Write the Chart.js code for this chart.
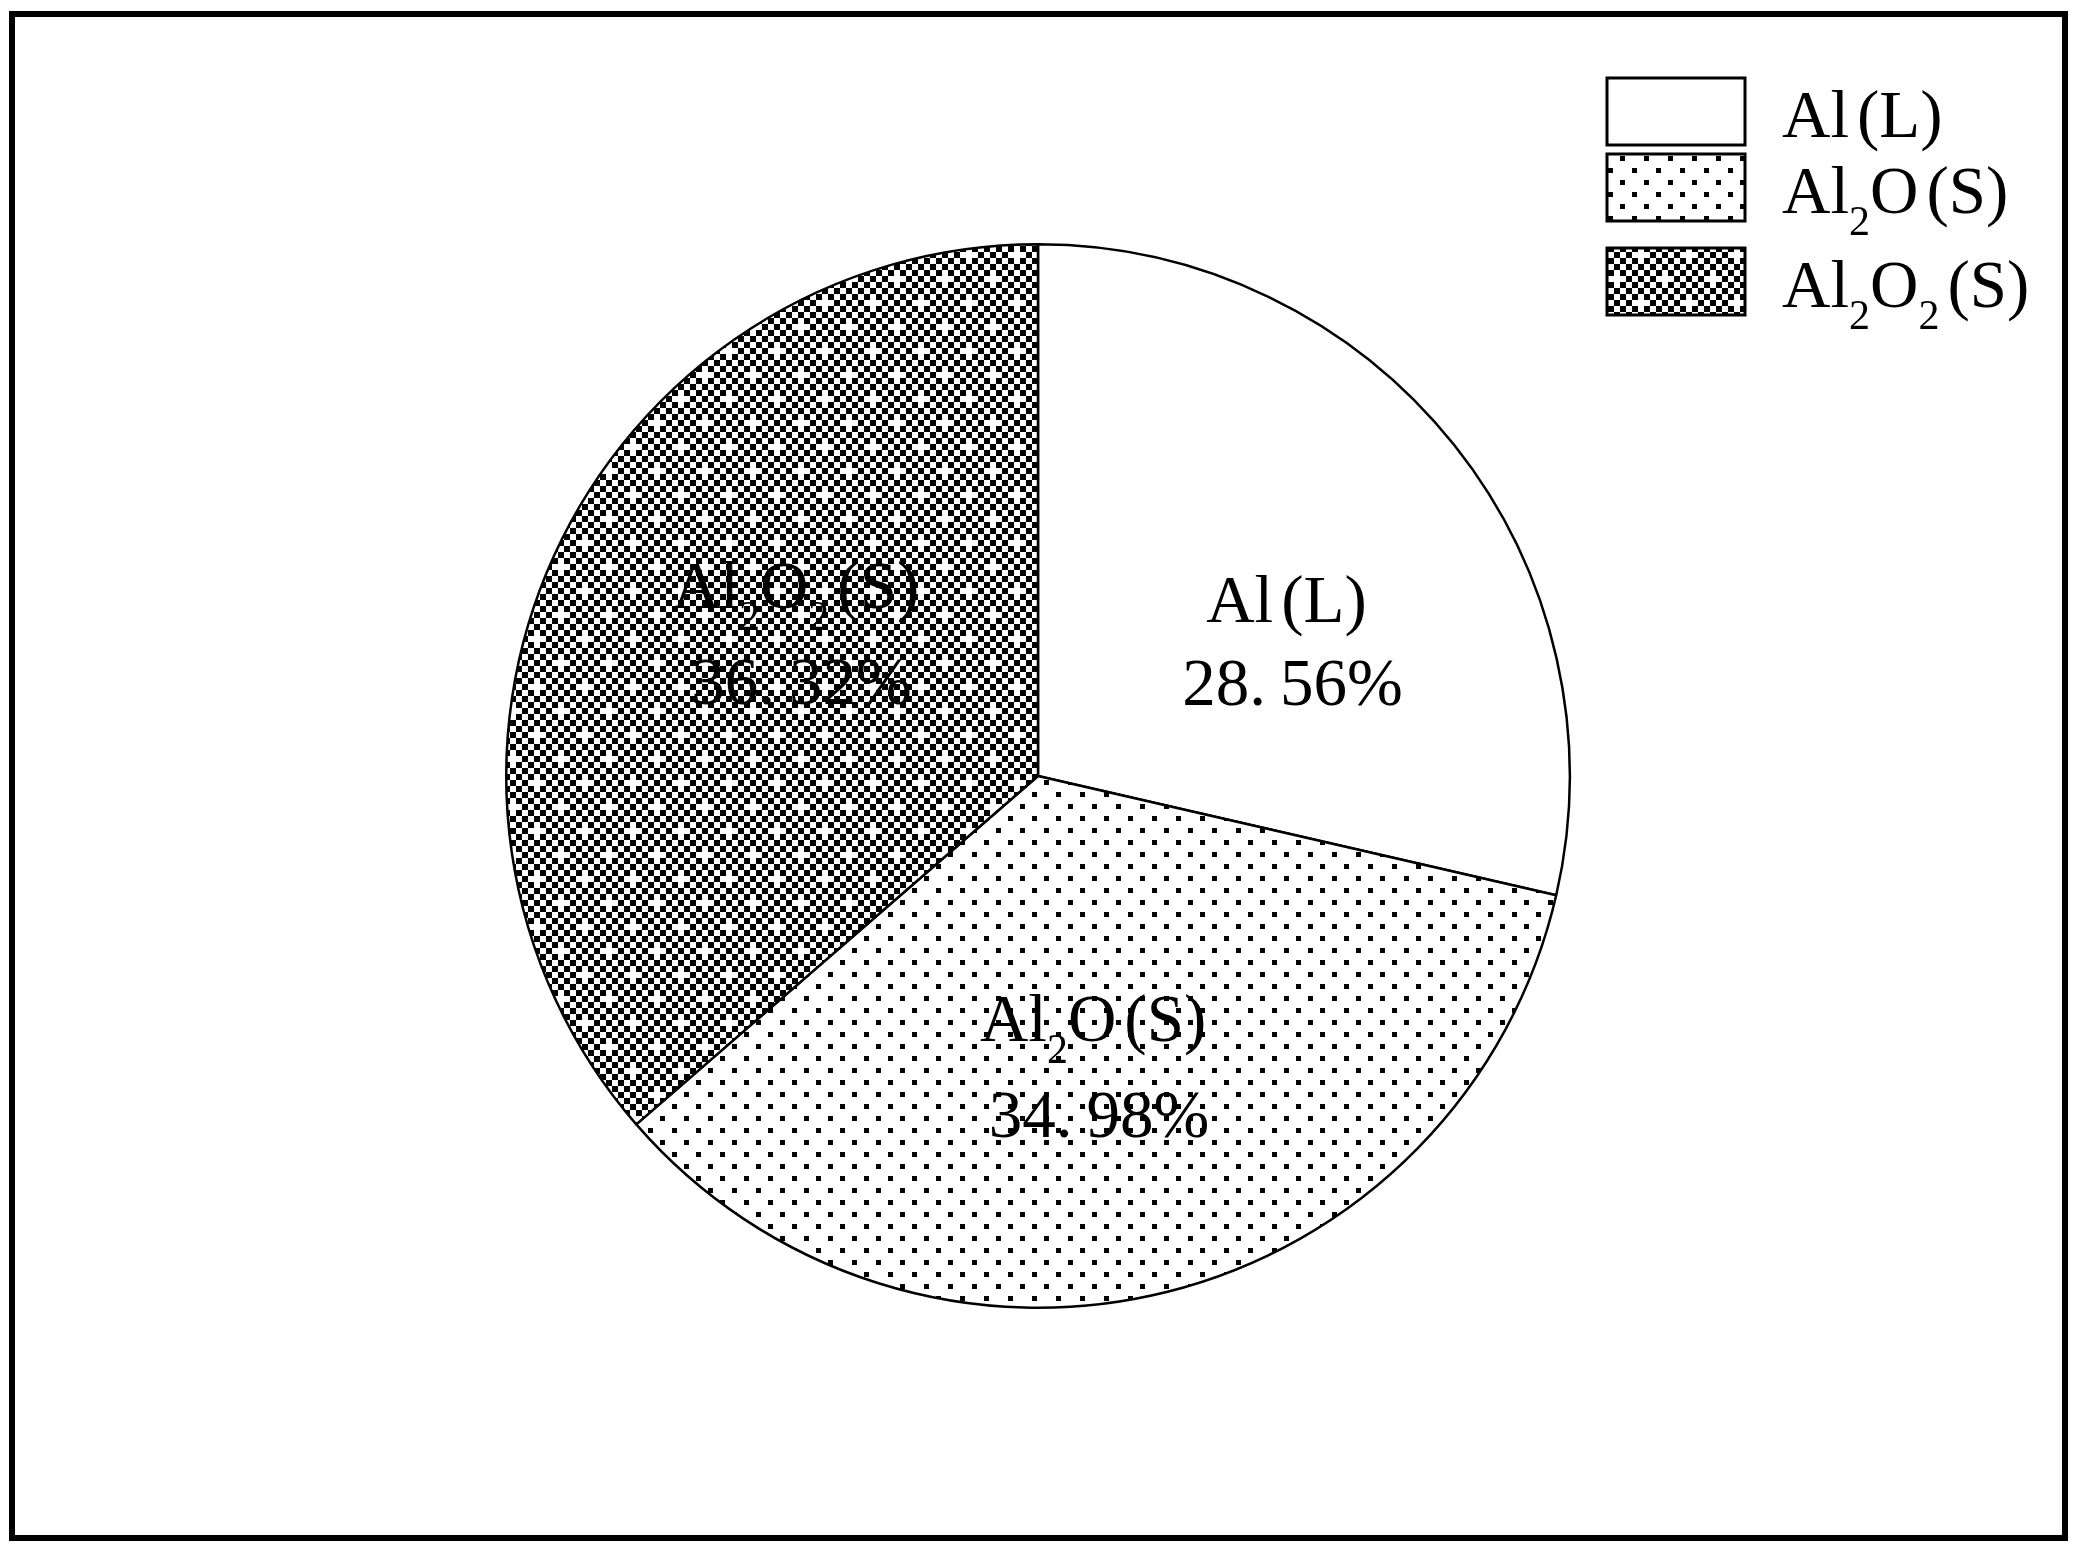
<!DOCTYPE html>
<html>
<head>
<meta charset="utf-8">
<script src="https://cdn.jsdelivr.net/npm/chart.js@4.4.1/dist/chart.umd.min.js"></script>
<style>
  html, body { margin: 0; padding: 0; background: #fff; }
  canvas { display: block; }
</style>
</head>
<body>
<canvas id="pie" width="2082" height="1558"></canvas>
<script>
// phase shares, % ("_2" marks a subscript 2)
const phases = ['Al(L)', 'Al_2O(S)', 'Al_2O_2(S)'];
const shares = [28.56, 34.98, 36.32];

const FONT = '"Liberation Serif", "DejaVu Serif", serif';

function dotFill() {
  const c = document.createElement('canvas');
  c.width = 24; c.height = 24;
  const g = c.getContext('2d');
  g.fillStyle = '#fff'; g.fillRect(0, 0, 24, 24);
  g.fillStyle = '#000';
  g.fillRect(0, 0, 5, 5);
  g.fillRect(12, 12, 5, 5);
  return g.createPattern(c, 'repeat');
}

function checkerFill() {
  const c = document.createElement('canvas');
  c.width = 48; c.height = 48;
  const g = c.getContext('2d');
  g.fillStyle = '#fff'; g.fillRect(0, 0, 48, 48);
  g.fillStyle = '#000';
  for (let i = 0; i < 8; i++) {
    for (let j = 0; j < 8; j++) {
      if ((i + j) % 2 === 0) continue;
      // a few cells left white -> little white crosses
      if ((i === 1 && j === 2) || (i === 5 && j === 6)) continue;
      g.fillRect(i * 6, j * 6, 6, 6);
    }
  }
  return g.createPattern(c, 'repeat');
}

// split "Al_2O_2(S)" into pieces, subscript digits flagged
function pieces(s) {
  const out = [];
  s.split(/(_\d)/).forEach(p => {
    if (!p) return;
    if (p[0] === '_') out.push({ t: p.slice(1), sub: true });
    else out.push({ t: p, sub: false });
  });
  return out;
}

const SIZE = 67, SUB = 42, GAP = 0;

// the original font leaves a gap before "(" and after "."
function extra(ch) {
  if (ch === '(') return 8;
  if (ch === '.') return 14;
  return 0;
}

function richWidth(ctx, s) {
  let w = 0;
  pieces(s).forEach(p => {
    ctx.font = (p.sub ? SUB : SIZE) + 'px ' + FONT;
    for (const ch of p.t) w += extra(ch) + ctx.measureText(ch).width + GAP;
  });
  return w - GAP;
}

function drawRich(ctx, s, x, y, align) {
  let cx = align === 'center' ? x - richWidth(ctx, s) / 2 : x;
  ctx.textBaseline = 'alphabetic';
  ctx.textAlign = 'left';
  pieces(s).forEach(p => {
    ctx.font = (p.sub ? SUB : SIZE) + 'px ' + FONT;
    const dy = p.sub ? 22 : 0;
    for (const ch of p.t) {
      if (ch === '(') cx += extra(ch);
      ctx.fillText(ch, cx, y + dy);
      cx += ctx.measureText(ch).width + GAP;
      if (ch === '.') cx += extra(ch);
    }
  });
}

const fills = ['#ffffff', dotFill(), checkerFill()];
// small shifts of the in-slice labels away from the mid-angle point
const labelNudge = [[28, 22], [-13, -8], [14, -51]];

const decor = {
  id: 'decor',
  afterDraw(chart) {
    const ctx = chart.ctx;
    ctx.save();
    ctx.fillStyle = '#000';

    // labels inside slices
    const meta = chart.getDatasetMeta(0);
    meta.data.forEach((arc, i) => {
      const p = arc.getProps(['x', 'y', 'startAngle', 'endAngle', 'outerRadius'], true);
      const mid = (p.startAngle + p.endAngle) / 2;
      const r = p.outerRadius * 0.53;
      const lx = p.x + Math.cos(mid) * r + labelNudge[i][0];
      const ly = p.y + Math.sin(mid) * r + labelNudge[i][1];
      const gap = phases[i].includes('_') ? 96 : 83;
      drawRich(ctx, phases[i], lx, ly, 'center');
      drawRich(ctx, shares[i].toFixed(2) + '%', lx + 6, ly + gap, 'center');
    });

    // legend, top right
    const rowTop = [78, 154, 248];
    phases.forEach((name, i) => {
      ctx.fillStyle = fills[i];
      ctx.fillRect(1607, rowTop[i], 138, 67);
      ctx.lineWidth = 3;
      ctx.strokeStyle = '#000';
      ctx.strokeRect(1607, rowTop[i], 138, 67);
      ctx.fillStyle = '#000';
      drawRich(ctx, name, 1782, rowTop[i] + 59, 'left');
    });

    // outer frame
    ctx.lineWidth = 6;
    ctx.strokeStyle = '#000';
    ctx.strokeRect(12, 14, 2053, 1524);
    ctx.restore();
  }
};

new Chart(document.getElementById('pie'), {
  type: 'pie',
  data: {
    labels: phases,
    datasets: [{
      data: shares,
      backgroundColor: fills,
      borderColor: '#000',
      borderWidth: 2.5,
    }],
  },
  options: {
    responsive: false,
    animation: false,
    devicePixelRatio: 1,
    layout: { padding: { left: 505, right: 511, top: 243, bottom: 249 } },
    plugins: {
      legend: { display: false },
      tooltip: { enabled: false },
    },
  },
  plugins: [decor],
});
</script>
</body>
</html>
